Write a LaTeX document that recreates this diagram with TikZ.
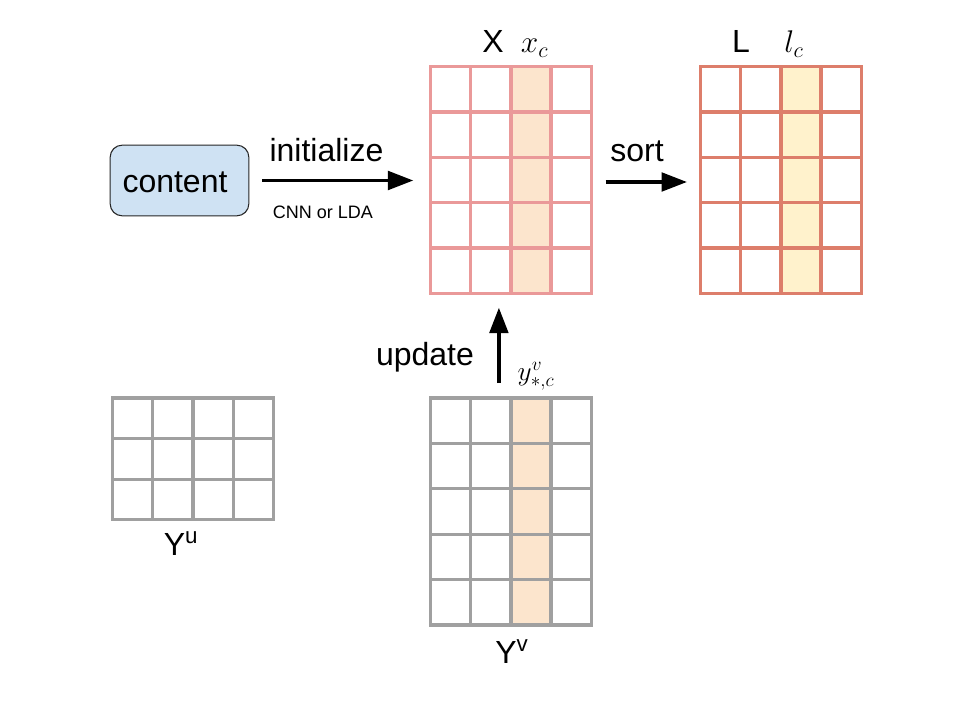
\documentclass[tikz,border=0pt]{standalone}
\usepackage{fix-cm}
\usepackage{fontspec}
\setmainfont{Liberation Sans}
\usetikzlibrary{arrows.meta}
\definecolor{xline}{HTML}{EA9999}
\definecolor{lline}{HTML}{DD7E6B}
\definecolor{gline}{HTML}{A0A0A0}
\definecolor{orfill}{HTML}{FCE5CD}
\definecolor{yefill}{HTML}{FFF2CC}
\definecolor{bluefill}{HTML}{CFE2F3}
\tikzset{
  gridline/.style={line width=2.5pt, line cap=rect},
  bigtxt/.style={font=\fontsize{24}{28}\selectfont, inner sep=0pt, anchor=base},
  smalltxt/.style={font=\fontsize{13.5}{16}\selectfont, inner sep=0pt, anchor=base},
  mathtxt/.style={font=\fontsize{23.5}{28}\selectfont, inner sep=0pt, anchor=base},
  mathsmall/.style={font=\fontsize{20.5}{24}\selectfont, inner sep=0pt, anchor=base},
  arr/.style={line width=2.4pt, -{Triangle[length=19pt,width=14pt]}},
  gridarea/.style={inner sep=0pt, draw=none},
  contentbox/.style={draw=black!85, line width=0.8pt, fill=bluefill, rounded corners=9pt,
     minimum width=104pt, minimum height=53pt, inner sep=0pt}
}
% #1 x0, #2 y0, #3 cols, #4 rows, #5 cw, #6 rh, #7 colour, #8 highlight col, #9 fill
\newcommand\mygrid[9]{%
  \ifnum#8>0 \fill[#9] ({#1+(#8-1)*#5},#2) rectangle ({#1+#8*#5},{#2+#4*#6});\fi
  \foreach \i in {0,...,#3} \draw[gridline,#7] ({#1+\i*#5},#2) -- ({#1+\i*#5},{#2+#4*#6});
  \foreach \j in {0,...,#4} \draw[gridline,#7] (#1,{#2+\j*#6}) -- ({#1+#3*#5},{#2+\j*#6});
}
\begin{document}
\begin{tikzpicture}[x=0.75pt,y=-0.75pt]
\useasboundingbox (0,0) rectangle (960,720);
% grids
\mygrid{430.5}{66.5}{4}{5}{40.2}{45.4}{xline}{3}{orfill}
\mygrid{700.5}{66.5}{4}{5}{40.2}{45.4}{lline}{3}{yefill}
\mygrid{430.5}{398}{4}{5}{40.2}{45.4}{gline}{3}{orfill}
\mygrid{112.5}{398}{4}{3}{40.3}{40.6}{gline}{0}{none}
% grid areas for connectors
\node[gridarea, minimum width=120.6pt, minimum height=170.25pt] (X) at (510.9,180) {};
\node[gridarea, minimum width=120.6pt, minimum height=170.25pt] (L) at (780.9,180) {};
\node[gridarea, minimum width=120.6pt, minimum height=170.25pt] (Yv) at (510.9,511.5) {};
\node[gridarea, minimum width=120.9pt, minimum height=91.35pt] (Yu) at (193.1,458.9) {};
% content
\node[contentbox] (content) at (179.5,180.5) {};
\node[bigtxt] (contenttxt) at (175,193) {content};
% labels
\node[bigtxt] (Xlab) at (493,53) {X};
\node[mathtxt] (xc) at (534.5,53) {$x_c$};
\node[bigtxt] (Llab) at (741,53) {L};
\node[mathtxt] (lc) at (794,53) {$l_c$};
\node[bigtxt] (init) at (326.5,162) {initialize};
\node[smalltxt] (cnn) at (323,219) {CNN or LDA};
\node[bigtxt] (sort) at (637,162) {sort};
\node[bigtxt] (update) at (425,365) {update};
\node[mathsmall] (ylab) at (536,380) {$y^{v}_{*,c}$};
\node[bigtxt] (Yulab) at (181,555) {Y\textsuperscript{u}};
\node[bigtxt] (Yvlab) at (512,663) {Y\textsuperscript{v}};
% connectors
\draw[arr, shorten <=9.75pt, shorten >=12.75pt] (content.east) -- (content.east -| X.west);
\draw[arr, shorten <=10.5pt, shorten >=10pt] ([yshift=-1.5pt]X.east) -- ([yshift=-1.5pt]L.west);
\draw[arr, shorten <=11pt, shorten >=10.5pt] ([xshift=-9pt]Yv.north) -- ([xshift=-9pt]X.south);
\end{tikzpicture}
\end{document}
